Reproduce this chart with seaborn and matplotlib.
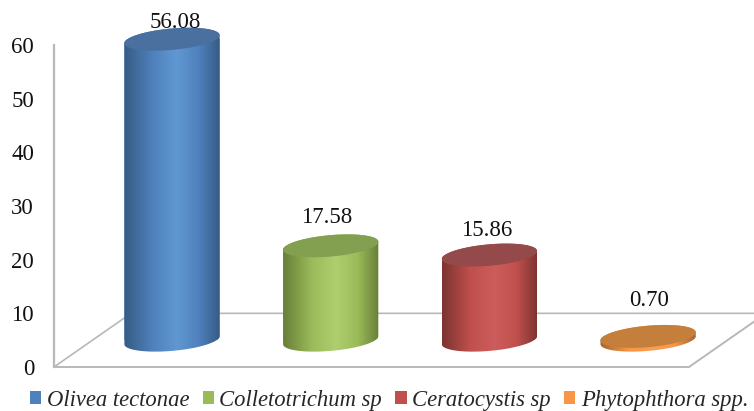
import numpy as np
import pandas as pd
import seaborn as sns
import matplotlib
matplotlib.use("Agg")
import matplotlib.pyplot as plt
from matplotlib.colors import LinearSegmentedColormap
from matplotlib.path import Path
from matplotlib.patches import PathPatch

species = ["Olivea tectonae", "Colletotrichum sp", "Ceratocystis sp", "Phytophthora spp."]
incidence = [56.08, 17.58, 15.86, 0.70]
value_labels = ["56.08", "17.58", "15.86", "0.70"]

base_colors = ["#4f81bd", "#9bbb59", "#c0504d", "#f79646"]
light_colors = ["#6098d2", "#afce6f", "#cd5d5c", "#f7a050"]
dark_colors = ["#365c85", "#687f38", "#7d3331", "#a8662e"]
lid_colors = ["#4a70a0", "#83a050", "#94494a", "#c47f3c"]

# Label nudges (pixels) that keep the numbers clear of the cylinder lids
label_dx = [3, -4, -3, 1]
label_dy = [17, 28, 25, 36]

FLOOR_DEPTH = 10.0      # back edge of the floor, in axis units
BAR_BASE = 5.0          # cylinders stand midway across the floor
LID_RY = 2.0            # ellipse half-height, axis units
LID_TILT = 0.75         # rise of the ellipse at its right tip, axis units
GRID = "#b8b8b8"
TEXT_SIZE = 16.5

W, H = 754, 411
sns.set_theme(style="white")
plt.rcParams["font.family"] = ["Liberation Serif", "DejaVu Serif"]

fig = plt.figure(figsize=(W / 100, H / 100), dpi=100)
ax = fig.add_axes([54 / W, 1 - 367 / H, 700 / W, 322 / H])

df = pd.DataFrame({"species": species, "incidence": incidence})
sns.barplot(data=df, x="species", y="incidence", hue="species", palette=base_colors,
            saturation=1, dodge=False, width=0.6, ax=ax, zorder=3, linewidth=0, legend=True)

# One category step is 158.7 px; the first cylinder is centred at x=172 px
step = 158.7
x0, x1 = (54 - 172) / step, (754 - 172) / step
ax.set_xticks([])
ax.set_xlabel("")
ax.set_ylabel("")
ax.set_yticks(range(0, 61, 10))
ax.tick_params(axis="y", length=0, pad=14.4, labelsize=TEXT_SIZE, labelcolor="#111111")

for side in ("top", "right", "bottom"):
    ax.spines[side].set_visible(False)
ax.spines["left"].set_color(GRID)
ax.spines["left"].set_linewidth(1.6)

# Floor of the pseudo-3D plot
run = 77 / step
front_right = (689 - 172) / step
floor_x = [x0, x0 + run, x1 + 0.1]
floor_y = [0, FLOOR_DEPTH, FLOOR_DEPTH]
ax.plot(floor_x, floor_y, color=GRID, lw=1.2, zorder=1, clip_on=False)
ax.plot([x0, front_right, front_right + run], [0, 0, FLOOR_DEPTH], color=GRID, lw=1.4,
        zorder=1, clip_on=False)


def ellipse_arc(cx, cy, rx, t0, t1, n=60):
    t = np.linspace(t0, t1, n)
    xs = cx + rx * np.cos(t)
    ys = cy + LID_RY * np.sin(t) + LID_TILT * np.cos(t)
    return np.column_stack([xs, ys])


bars = list(ax.patches)
for bar, base, light, dark, lid, val, lab, dx, dy in zip(
        bars, base_colors, light_colors, dark_colors, lid_colors,
        incidence, value_labels, label_dx, label_dy):
    # Cylinders stand on the floor, so each bar is lifted by the same base
    bar.set_y(BAR_BASE)
    left, width = bar.get_x(), bar.get_width()
    cx, rx = left + width / 2, width / 2
    bottom, top = bar.get_y(), bar.get_y() + bar.get_height()

    # Cylinder wall: front half of the foot ellipse, back half of the lid ellipse
    wall = np.vstack([ellipse_arc(cx, bottom, rx, np.pi, 2 * np.pi),
                      ellipse_arc(cx, top, rx, 0, np.pi)])
    clip = PathPatch(Path(wall), transform=ax.transData, facecolor="none", edgecolor="none")
    ax.add_patch(clip)
    bar.set_clip_path(clip)
    bar.set_clip_box(fig.bbox)

    cmap = LinearSegmentedColormap.from_list(
        "wall", [(0, dark), (0.3, base), (0.55, light), (0.78, base), (1, dark)])
    shade = np.linspace(0, 1, 200)[None, :]
    ylow, yhigh = bottom - LID_RY - LID_TILT, top + LID_RY + LID_TILT
    im = ax.imshow(shade, cmap=cmap, extent=(left, left + width, ylow, yhigh),
                   aspect="auto", origin="lower", zorder=3.5)
    im.set_clip_path(clip)
    im.set_clip_box(fig.bbox)

    lid_xy = ellipse_arc(cx, top, rx, 0, 2 * np.pi, 120)
    ax.add_patch(PathPatch(Path(lid_xy), facecolor=lid, edgecolor="none", zorder=4,
                           clip_on=False))

    ax.annotate(lab, xy=(cx, top), xytext=(dx * 0.72, dy * 0.72), textcoords="offset points",
                ha="center", va="center", fontsize=TEXT_SIZE, color="#111111",
                annotation_clip=False, zorder=5)

ax.set_xlim(x0, x1)
ax.set_ylim(0, 60)

sns.move_legend(ax, "lower left", bbox_to_anchor=(30 / W, 0.5 / H), bbox_transform=fig.transFigure,
                ncols=4, frameon=False, title=None, borderaxespad=0, borderpad=0,
                handlelength=0.49, handleheight=0.49, handletextpad=0.24, columnspacing=0.6,
                prop={"family": "Liberation Serif", "style": "italic", "size": 16.3})

fig.savefig("out.png", dpi=100, facecolor="white")
